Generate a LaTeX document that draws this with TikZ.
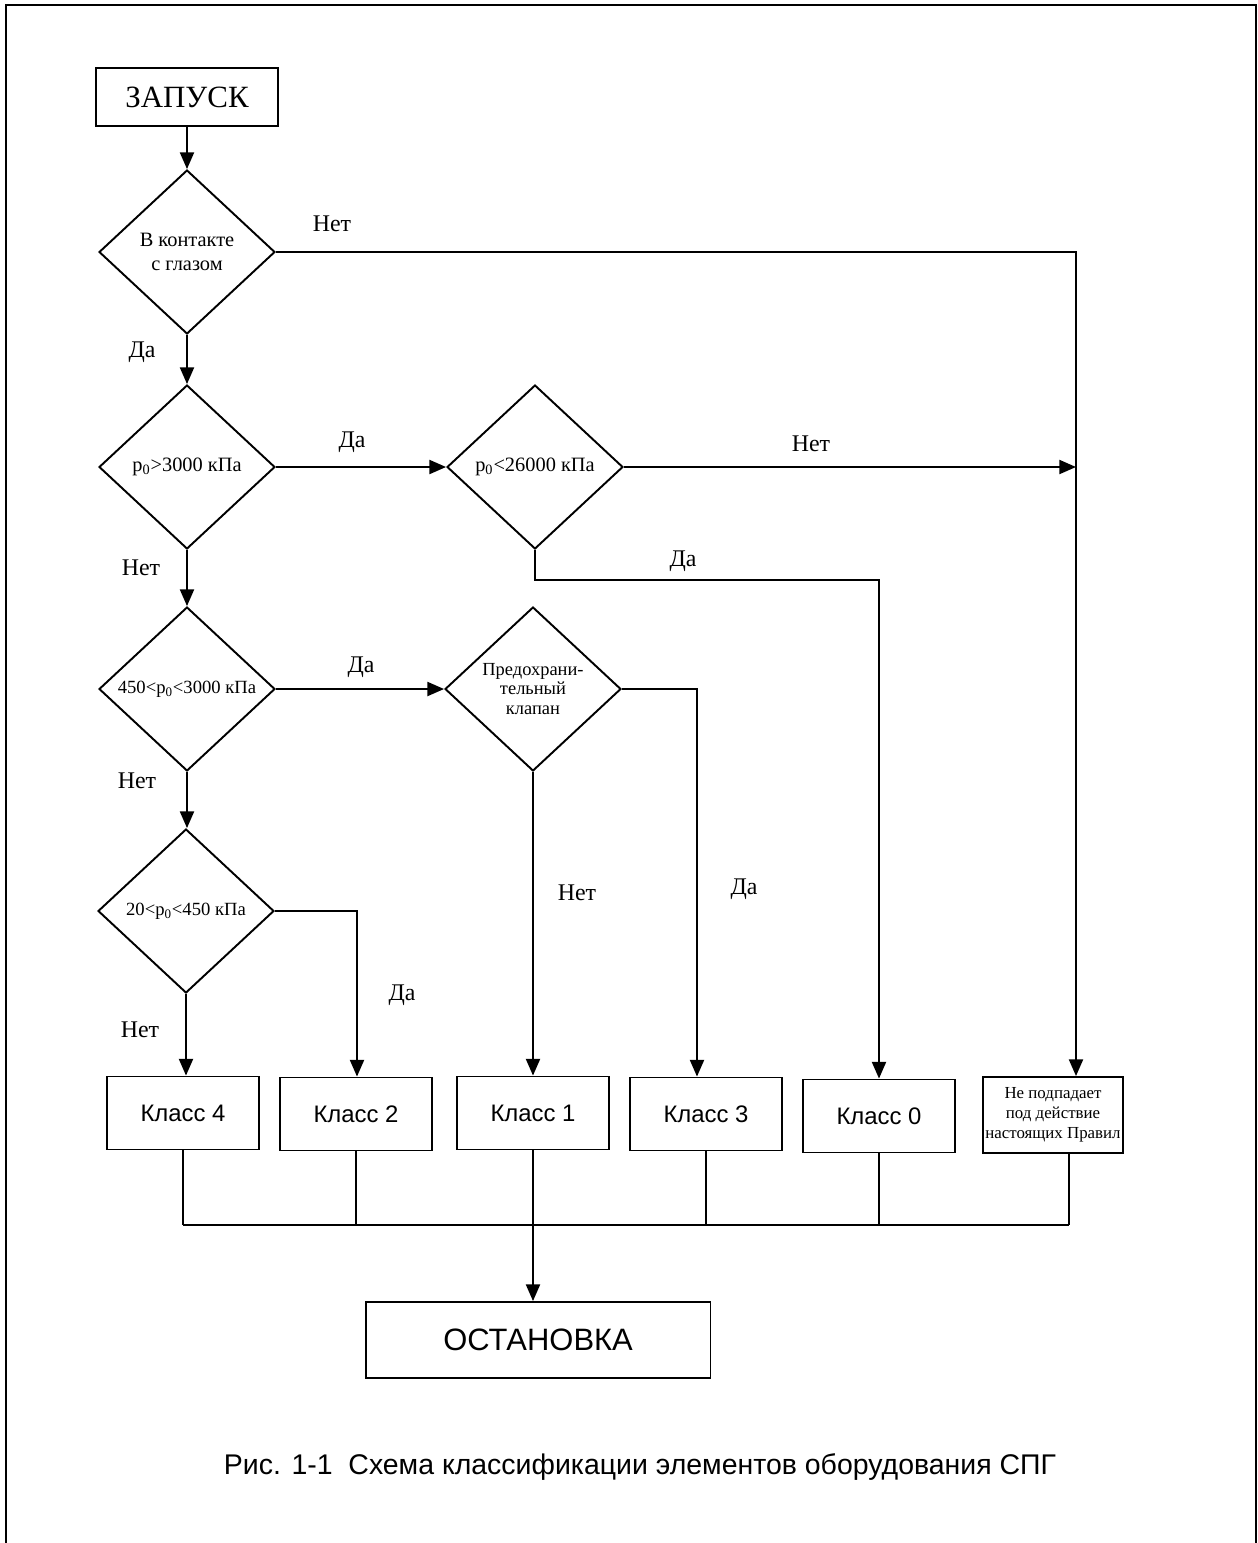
\documentclass[tikz,border=0pt]{standalone}
\usepackage{fontspec}
\setmainfont{Liberation Serif}
\setsansfont{Liberation Sans}
\usetikzlibrary{shapes.geometric,arrows.meta}

\begin{document}
\begin{tikzpicture}[x=0.02cm, y=-0.02cm, line width=1.1pt,
  arr/.style={-{Triangle[length=9.5pt,width=8pt]}},
  cond/.style={diamond, draw, inner sep=0pt, aspect=1.08,
    minimum width=3.52cm, minimum height=3.28cm, align=center,
    font=\fontsize{11.6}{13.5}\selectfont},
  klass/.style={draw, minimum width=3.04cm, minimum height=1.46cm,
    font=\sffamily\fontsize{13.6}{16}\selectfont},
  lbl/.style={font=\fontsize{13.6}{16}\selectfont}]
  \useasboundingbox (0,0) rectangle (1258,1543);
  % ramka
  \draw[line width=1.6pt] (6,1543) -- (6,5) -- (1256,5) -- (1256,1543);
  % zapusk
  \node[draw, minimum width=3.64cm, minimum height=1.16cm,
    font=\rmfamily\fontsize{17.6}{20}\selectfont] (start) at (187,97) {ЗАПУСК};
  % usloviya
  \node[cond] (eye) at (187,252) {В контакте\\с глазом};
  \node[cond] (hp) at (187,467) {p\textsubscript{0}>3000 кПа};
  \node[cond] (hhp) at (535,467) {p\textsubscript{0}<26000 кПа};
  \node[cond, font=\fontsize{10.6}{12}\selectfont] (mp) at (187,689)
    {450<p\textsubscript{0}<3000 кПа};
  \node[cond, font=\fontsize{10.5}{11.3}\selectfont] (valve) at (533,689)
    {Предохрани-\\тельный\\клапан};
  \node[cond, font=\fontsize{10.6}{12}\selectfont] (lp) at (186,911)
    {20<p\textsubscript{0}<450 кПа};
  % klassy
  \node[klass] (k4) at (183,1113) {Класс 4};
  \node[klass] (k2) at (356,1114) {Класс 2};
  \node[klass] (k1) at (533,1113) {Класс 1};
  \node[klass] (k3) at (706,1114) {Класс 3};
  \node[klass] (k0) at (879,1116) {Класс 0};
  \node[draw, minimum width=2.8cm, minimum height=1.52cm, align=center,
    inner sep=1pt, font=\fontsize{9.6}{11.3}\selectfont] (out) at (1053,1115)
    {Не подпадает\\под действие\\настоящих Правил};
  % ostanovka
  \node[draw, minimum width=6.9cm, minimum height=1.52cm,
    font=\sffamily\fontsize{17.6}{20}\selectfont] (stop) at (538,1340) {ОСТАНОВКА};
  % strelki
  \coordinate (rail) at (1076,252);
  \coordinate (bend3) at (697,689);
  \coordinate (bend2) at (357,911);
  \coordinate (bus) at (0,1225);
  \draw[arr] (start) -- (eye);
  \draw[arr] (eye) -- (hp);
  \draw[arr] (hp) -- (mp);
  \draw[arr] (mp) -- (lp.north -| mp.south);
  \draw[arr] (lp.south) -- (lp.south |- k4.north);
  \draw[arr] (hp) -- (hhp);
  \draw[arr] (mp) -- (valve);
  \draw[arr] (eye.east) -- (rail) -- (rail |- out.north);
  \draw[arr] (hhp.east) -- (hhp.east -| rail);
  \draw[arr] (hhp.south) -- ++(0,30) -| (k0.north);
  \draw[arr] (valve.east) -- (bend3) -- (bend3 |- k3.north);
  \draw[arr] (valve.south) -- (k1.north);
  \draw[arr] (lp.east) -- (bend2) -- (bend2 |- k2.north);
  % shina
  \begin{scope}[line width=0.9pt]
  \foreach \k in {k4,k2,k3,k0}
    \draw (\k.south) -- (\k.south |- bus);
  \draw ([xshift=0.32cm]out.south) -- ([xshift=0.32cm]out.south |- bus);
  \draw (k4.south |- bus) -- ([xshift=0.32cm]out.south |- bus);
  \end{scope}
  \draw[arr] (k1.south) -- (k1.south |- stop.north);
  % nadpisi
  \node[lbl] (n1) at (332,224) {Нет};
  \node[lbl] (d1) at (142,352) {Да};
  \node[lbl] (d2) at (352,442) {Да};
  \node[lbl] (n2) at (811,444) {Нет};
  \node[lbl] (n3) at (141,568) {Нет};
  \node[lbl] (d3) at (683,561) {Да};
  \node[lbl] (d4) at (361,667) {Да};
  \node[lbl] (n4) at (137,781) {Нет};
  \node[lbl] (n5) at (577,893) {Нет};
  \node[lbl] (d5) at (744,889) {Да};
  \node[lbl] (d6) at (402,995) {Да};
  \node[lbl] (n6) at (140,1030) {Нет};
  % podpis
  \node[font=\sffamily\fontsize{16.2}{19}\selectfont] (cap) at (640,1467)
    {Рис. 1-1\ \ Схема классификации элементов оборудования СПГ};
\end{tikzpicture}
\end{document}
